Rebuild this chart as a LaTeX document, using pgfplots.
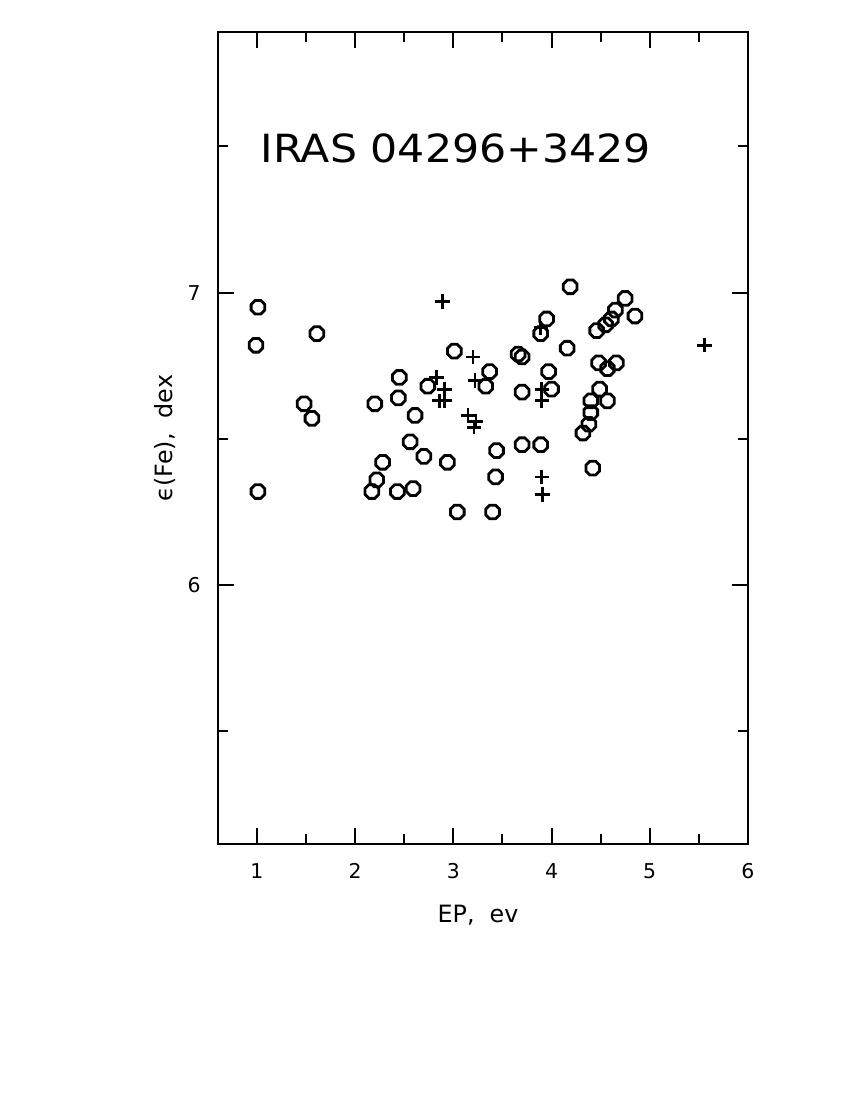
\documentclass[border=0pt]{standalone}
\usepackage{fontspec}
\setmainfont{DejaVu Sans}
\usepackage{pgfplots}
\pgfplotsset{compat=1.18}

% octagon mark, like the plotter's circles
\pgfdeclareplotmark{oct}{%
  \pgfpathmoveto{\pgfpointpolar{22.5}{\pgfplotmarksize}}%
  \pgfpathlineto{\pgfpointpolar{67.5}{\pgfplotmarksize}}%
  \pgfpathlineto{\pgfpointpolar{112.5}{\pgfplotmarksize}}%
  \pgfpathlineto{\pgfpointpolar{157.5}{\pgfplotmarksize}}%
  \pgfpathlineto{\pgfpointpolar{202.5}{\pgfplotmarksize}}%
  \pgfpathlineto{\pgfpointpolar{247.5}{\pgfplotmarksize}}%
  \pgfpathlineto{\pgfpointpolar{292.5}{\pgfplotmarksize}}%
  \pgfpathlineto{\pgfpointpolar{337.5}{\pgfplotmarksize}}%
  \pgfpathclose\pgfusepathqstroke}

\begin{document}
\begin{tikzpicture}
\begin{axis}[
  scale only axis, width=265.1pt, height=405.7pt,
  xmin=0.6, xmax=6, ymin=5.116, ymax=7.89,
  xtick={1,2,3,4,5,6}, minor xtick={1.5,2.5,3.5,4.5,5.5},
  ytick={6,7}, minor ytick={5.5,6.5,7.5},
  tick align=inside, major tick length=8pt, minor tick length=5pt,
  axis line style={line width=1pt},
  every tick/.style={black, line width=1pt},
  /pgf/number format/assume math mode=true,
  tick label style={font=\fontsize{10.2}{12}\selectfont},
  xticklabel style={yshift=-6.2pt},
  yticklabel style={xshift=-5pt},
  xlabel={EP,\ \ ev}, ylabel={ϵ(Fe),\ \ dex},
  label style={font=\fontsize{11.9}{14}\selectfont},
  xlabel style={at={(axis description cs:0.491,0)}, anchor=center, yshift=-35.9pt},
  ylabel style={at={(axis description cs:0,0.5)}, anchor=center, yshift=26.4pt},
]
% circles
\addplot[only marks, mark=oct, mark size=3.7pt, line width=1.4pt] coordinates {
  (1.01,6.95)(0.99,6.82)(1.61,6.86)(1.48,6.62)(1.56,6.57)(1.01,6.32)
  (3.01,6.80)(2.45,6.71)(2.44,6.64)(2.20,6.62)(2.74,6.68)(2.61,6.58)
  (2.56,6.49)(2.70,6.44)(2.28,6.42)(2.94,6.42)(2.22,6.36)(2.17,6.32)
  (2.43,6.32)(2.59,6.33)(3.04,6.25)(3.37,6.73)(3.33,6.68)(3.44,6.46)
  (3.43,6.37)(3.40,6.25)(4.19,7.02)(4.75,6.98)(4.85,6.92)(4.65,6.94)
  (4.61,6.91)(4.55,6.89)(4.46,6.87)(3.95,6.91)(3.89,6.86)(4.16,6.81)
  (3.66,6.79)(3.70,6.78)(3.97,6.73)(4.00,6.67)(3.70,6.66)(4.48,6.76)
  (4.66,6.76)(4.57,6.74)(4.49,6.67)(4.57,6.63)(4.40,6.63)(4.40,6.59)
  (4.38,6.55)(4.32,6.52)(3.70,6.48)(3.89,6.48)(4.42,6.40)
};
% pluses
\addplot[only marks, mark=+, mark size=3.6pt, line width=1.4pt] coordinates {
  (2.89,6.97)(3.20,6.78)(2.83,6.71)(2.91,6.67)(2.86,6.63)(2.91,6.63)
  (3.22,6.70)(3.15,6.58)(3.23,6.56)(3.21,6.54)(5.56,6.82)(3.89,6.88)
  (3.90,6.67)(3.90,6.63)(3.90,6.37)(3.91,6.31)
};
\node[font=\fontsize{19.4}{22}\selectfont, xscale=1.1] at (axis cs:3.024,7.492) {IRAS 04296+3429};
\coordinate (o) at (rel axis cs:0,0);
\end{axis}
\path (o) ++(-108.85pt,-128.15pt) rectangle ++(425pt,550pt);
\end{tikzpicture}
\end{document}
